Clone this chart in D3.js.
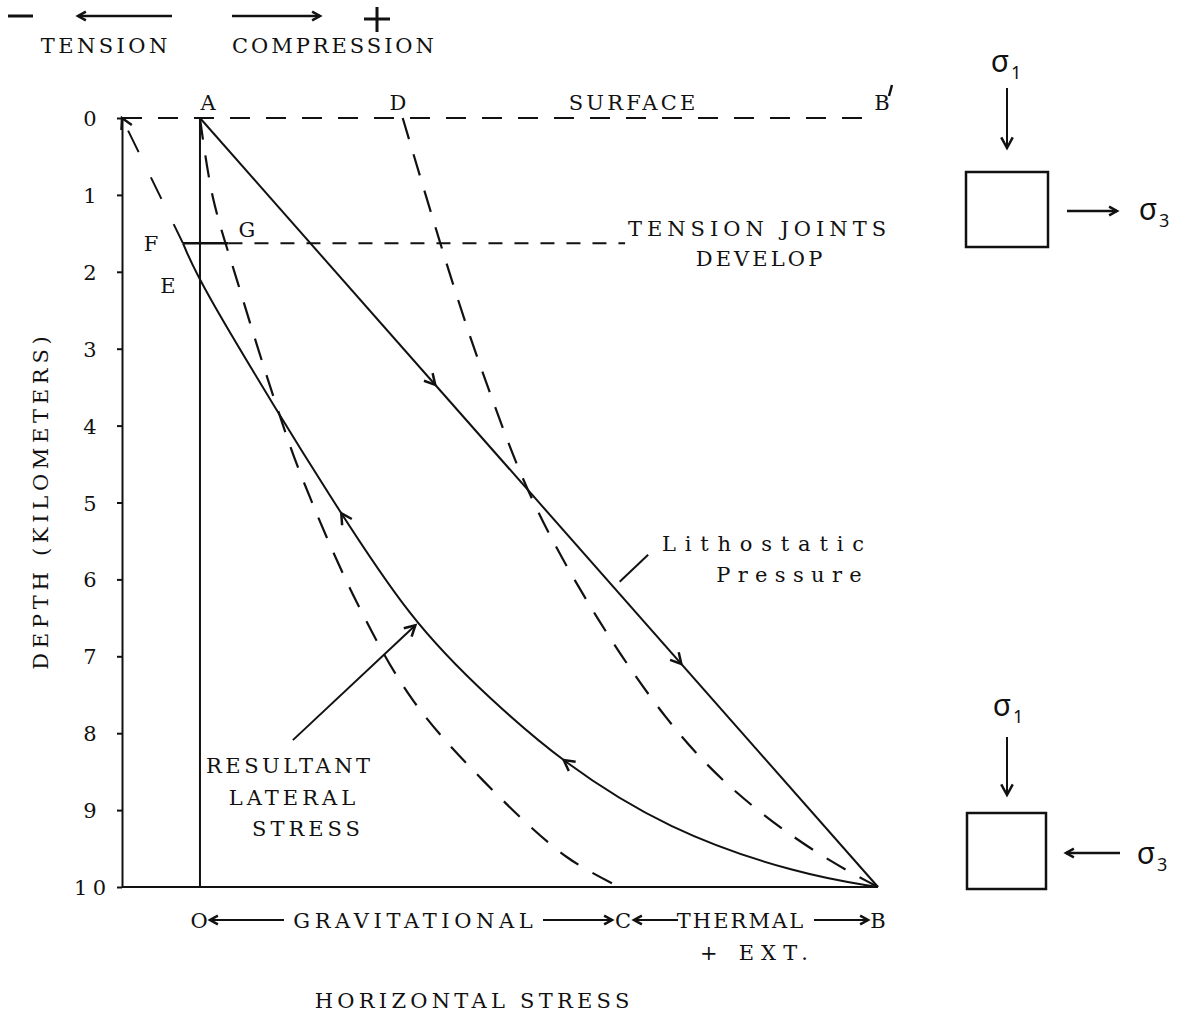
<!DOCTYPE html>
<html>
<meta charset="utf-8">
<script src="https://d3js.org/d3.v7.min.js"></script>
<style>
  body { margin: 0; background: #fff; }
  text { font-family: "DejaVu Serif", "Liberation Serif", serif; font-size: 21px; fill: #111; }
  .sig { font-family: "Noto Sans", sans-serif; font-size: 30px; }
  .sub { font-family: "Noto Sans", sans-serif; font-size: 18px; }
</style>
<body>
<div id="chart"></div>
<script>
// ---- data (horizontal stress units, depth in km) ----
var depthTicks = [0, 1, 2, 3, 4, 5, 6, 7, 8, 9, 10];
var lithostatic = [[0, 0], [10, 10]];
var gravitational = [[0, 0], [0.19, 1.03], [0.56, 2.15], [1.15, 3.8], [1.52, 4.71], [2.32, 6.31],
                     [3.14, 7.57], [4.17, 8.61], [5.41, 9.61], [6.19, 10]];
var thermal = [[2.99, 0], [3.54, 1.63], [3.98, 2.85], [4.28, 3.58], [4.85, 4.97], [5.85, 6.53],
               [6.89, 7.87], [7.86, 8.78], [9.1, 9.58], [10, 10]];
var resultant = [[-0.25, 1.63], [0, 2.15], [1.22, 3.93], [1.77, 4.71], [3.12, 6.57],
                 [4.3, 7.57], [5.3, 8.35], [6.89, 9.26], [8.85, 9.84], [10, 10]];
var tensionLine = [[-1.15, 0], [-0.25, 1.63]];
var jointDepth = 1.63;
var surfaceDepth = 0;
var xMin = -1.15, xMax = 10;

// ---- svg ----
var W = 1183, H = 1015;
var svg = d3.select("#chart").append("svg")
    .attr("width", W).attr("height", H);

var x = d3.scaleLinear().domain([xMin, xMax]).range([122, 878]);
var y = d3.scaleLinear().domain([0, 10]).range([118, 887]);

var line = d3.line().x(function(d) { return x(d[0]); }).y(function(d) { return y(d[1]); });
var smooth = d3.line().x(function(d) { return x(d[0]); }).y(function(d) { return y(d[1]); })
    .curve(d3.curveCatmullRom.alpha(0.5));
var basis = d3.line().x(function(d) { return x(d[0]); }).y(function(d) { return y(d[1]); })
    .curve(d3.curveBasis);

var ink = "#111";
var CH = 18.8; // typewriter advance

// Y axis
var yAxis = svg.append("g")
    .attr("transform", "translate(" + x(xMin) + ",0)")
    .call(d3.axisLeft(y).tickValues(depthTicks).tickSize(5).tickSizeOuter(0));
yAxis.select(".domain").attr("stroke", ink).attr("stroke-width", 2);
yAxis.selectAll(".tick line").attr("stroke", ink).attr("stroke-width", 2);
yAxis.selectAll(".tick text")
    .attr("x", -32).attr("dy", ".36em").attr("text-anchor", "middle")
    .attr("fill", ink)
    .style("font-family", "DejaVu Serif").style("font-size", "21px")
    .attr("textLength", function(d) { return d >= 10 ? 32 : null; })
    .attr("lengthAdjust", "spacing");

// bottom line
svg.append("path").attr("d", line([[xMin, 10], [xMax, 10]]))
    .attr("stroke", ink).attr("stroke-width", 2).attr("fill", "none");

// O vertical line
svg.append("path").attr("d", line([[0, 0], [0, 10]]))
    .attr("stroke", ink).attr("stroke-width", 2).attr("fill", "none");

// surface dashed
svg.append("path").attr("d", line([[xMin, surfaceDepth], [xMax, surfaceDepth]]))
    .attr("stroke", ink).attr("stroke-width", 2).attr("fill", "none")
    .attr("stroke-dasharray", "20,16");

// tension joints: solid F-G then dashed
svg.append("path").attr("d", line([[-0.25, jointDepth], [0.42, jointDepth]]))
    .attr("stroke", ink).attr("stroke-width", 2.5).attr("fill", "none");
svg.append("path").attr("d", line([[0.42, jointDepth], [6.27, jointDepth]]))
    .attr("stroke", ink).attr("stroke-width", 2).attr("fill", "none")
    .attr("stroke-dasharray", "14,12");

// dashed tension line from corner to F
svg.append("path").attr("d", line(tensionLine))
    .attr("stroke", ink).attr("stroke-width", 2).attr("fill", "none")
    .attr("stroke-dasharray", "0,14,24,14");

// curves
svg.append("path").attr("d", line(lithostatic))
    .attr("stroke", ink).attr("stroke-width", 2).attr("fill", "none");
svg.append("path").attr("d", smooth(gravitational))
    .attr("stroke", ink).attr("stroke-width", 2.2).attr("fill", "none")
    .attr("stroke-dasharray", "22,16");
svg.append("path").attr("d", basis(thermal))
    .attr("stroke", ink).attr("stroke-width", 2.2).attr("fill", "none")
    .attr("stroke-dasharray", "22,16");
var resPath = svg.append("path").attr("d", basis(resultant))
    .attr("stroke", ink).attr("stroke-width", 2).attr("fill", "none");

// arrowheads
function arrowHead(px, py, ang, len) {
  len = len || 12;
  var a1 = ang + Math.PI - 0.5, a2 = ang + Math.PI + 0.5;
  svg.append("path")
    .attr("d", "M" + (px + len * Math.cos(a1)) + "," + (py + len * Math.sin(a1)) +
               "L" + px + "," + py +
               "L" + (px + len * Math.cos(a2)) + "," + (py + len * Math.sin(a2)))
    .attr("stroke", ink).attr("stroke-width", 2.5).attr("fill", "none");
}
function arrowOn(p, q) {
  // arrow tip at p, pointing in direction q -> p
  var ang = Math.atan2(y(p[1]) - y(q[1]), x(p[0]) - x(q[0]));
  arrowHead(x(p[0]), y(p[1]), ang);
}
// point on the drawn resultant curve at a given depth
function onResultant(depth) {
  var node = resPath.node(), L = node.getTotalLength(), lo = 0, hi = L, py = y(depth);
  for (var i = 0; i < 40; i++) {
    var mid = (lo + hi) / 2;
    if (node.getPointAtLength(mid).y < py) lo = mid; else hi = mid;
  }
  var p = node.getPointAtLength(lo), q = node.getPointAtLength(Math.min(L, lo + 6));
  return {p: p, ang: Math.atan2(p.y - q.y, p.x - q.x)};
}
arrowOn([3.47, 3.47], [0, 0]);
arrowOn([7.1, 7.1], [0, 0]);
var r1 = onResultant(5.14); arrowHead(r1.p.x, r1.p.y, r1.ang);
var r2 = onResultant(8.35); arrowHead(r2.p.x, r2.p.y, r2.ang);
arrowOn([xMin, 0], [-1.0, 0.27]);

// leader arrow to resultant
var tip = onResultant(6.57).p;
var tail = [x(1.37), y(8.09)];
svg.append("path").attr("d", "M" + tail[0] + "," + tail[1] + "L" + (tip.x - 3) + "," + (tip.y + 2))
    .attr("stroke", ink).attr("stroke-width", 2).attr("fill", "none");
arrowHead(tip.x - 3, tip.y + 2, Math.atan2(tip.y - tail[1], tip.x - tail[0]));

// leader to lithostatic
svg.append("path").attr("d", line([[6.19, 6.03], [6.61, 5.68]]))
    .attr("stroke", ink).attr("stroke-width", 2).attr("fill", "none");

// ---- text labels ----
function label(t, cx, cy, cls) {
  var n = t.length;
  var el = svg.append("text").attr("x", cx).attr("y", cy).attr("dy", ".36em")
    .attr("text-anchor", "middle").attr("class", cls || null).text(t);
  if (n > 1) el.attr("textLength", n * CH - 5).attr("lengthAdjust", "spacing");
  return el;
}
label("A", 208, 102);
label("D", 398, 102);
label("SURFACE", 632, 102);
label("B", 882, 102);
svg.append("path").attr("d", "M889,96L892,85").attr("stroke", ink).attr("stroke-width", 2.5);
label("F", 151, 243);
label("G", 247, 229);
label("E", 168, 285);
label("TENSION JOINTS", 757, 228);
label("DEVELOP", 759, 258);
label("Lithostatic", 763, 543);
label("Pressure", 789, 574);
label("RESULTANT", 288, 765);
label("LATERAL", 292, 797);
label("STRESS", 306, 828);

// bottom labels
label("O", 199, 920);
label("GRAVITATIONAL", 413, 920);
label("C", 623, 920);
label("THERMAL", 740, 920);
label("B", 878, 920);
label("+ EXT.", 754, 952);
label("HORIZONTAL STRESS", 472, 1000);

function hArrow(x1, x2, yy, w) {
  svg.append("path").attr("d", "M" + x1 + "," + yy + "L" + x2 + "," + yy)
    .attr("stroke", ink).attr("stroke-width", w || 2).attr("fill", "none");
  arrowHead(x2, yy, x2 > x1 ? 0 : Math.PI, 9);
}
hArrow(284, 210, 920);
hArrow(543, 612, 920);
hArrow(678, 634, 920);
hArrow(814, 868, 920);

// y label
svg.append("text").attr("transform", "translate(40,503) rotate(-90)")
  .attr("dy", ".36em").attr("text-anchor", "middle")
  .attr("textLength", 18 * CH - 5).attr("lengthAdjust", "spacing")
  .text("DEPTH (KILOMETERS)");

// top legend
svg.append("path").attr("d", "M8,16L33,16").attr("stroke", ink).attr("stroke-width", 3);
hArrow(172, 78, 16, 2.5);
hArrow(232, 320, 16, 2.5);
svg.append("path").attr("d", "M364,19L390,19M377,7L377,32").attr("stroke", ink).attr("stroke-width", 3);
label("TENSION", 104, 45);
label("COMPRESSION", 333, 45);

// stress element diagrams
function vArrow(xx, y1, y2) {
  svg.append("path").attr("d", "M" + xx + "," + y1 + "L" + xx + "," + y2)
    .attr("stroke", ink).attr("stroke-width", 2).attr("fill", "none");
  arrowHead(xx, y2, Math.PI / 2, 12);
}
function sigma(sx, sy, sub) {
  svg.append("text").attr("class", "sig").attr("x", sx).attr("y", sy).attr("text-anchor", "middle").text("σ");
  svg.append("text").attr("class", "sub").attr("x", sx + 11).attr("y", sy + 7).text(sub);
}
// top element (tension)
sigma(1000, 72, "1");
vArrow(1007, 88, 148);
svg.append("rect").attr("x", 966).attr("y", 172).attr("width", 82).attr("height", 75)
  .attr("fill", "none").attr("stroke", ink).attr("stroke-width", 2.5);
hArrow(1067, 1117, 211, 2.5);
sigma(1148, 220, "3");
// bottom element (compression)
sigma(1002, 716, "1");
vArrow(1007, 737, 795);
svg.append("rect").attr("x", 967).attr("y", 813).attr("width", 79).attr("height", 76)
  .attr("fill", "none").attr("stroke", ink).attr("stroke-width", 2.5);
hArrow(1120, 1066, 853, 2.5);
sigma(1146, 864, "3");
</script>
</body>
</html>
